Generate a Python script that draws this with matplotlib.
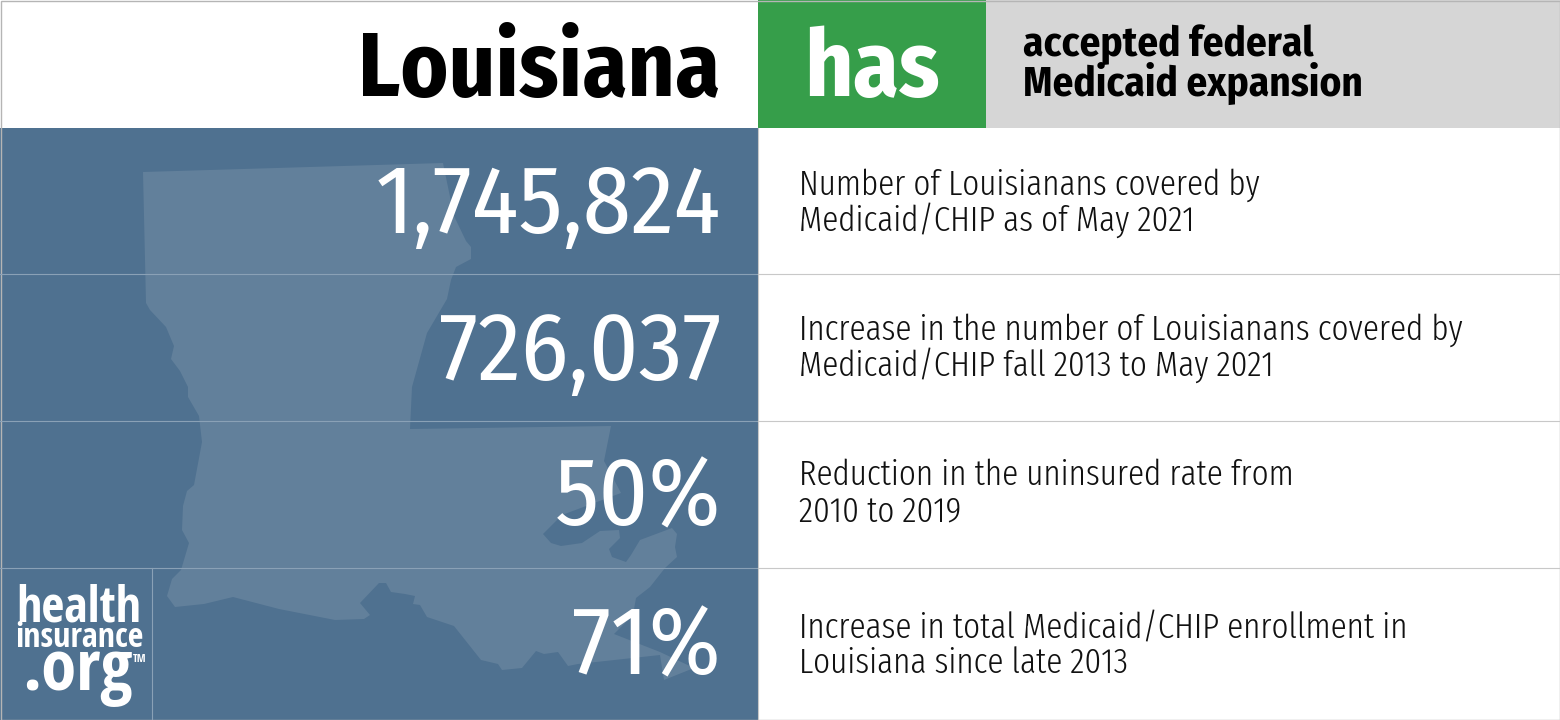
import matplotlib
matplotlib.use("Agg")
import matplotlib.pyplot as plt
from matplotlib.patches import Polygon, Rectangle

state = "Louisiana"
status = "has"
status_note = ["accepted federal", "Medicaid expansion"]

stat_values = ["1,745,824", "726,037", "50%", "71%"]
stat_notes = [
    ["Number of Louisianans covered by", "Medicaid/CHIP as of May 2021"],
    ["Increase in the number of Louisianans covered by", "Medicaid/CHIP fall 2013 to May 2021"],
    ["Reduction in the uninsured rate from", "2010 to 2019"],
    ["Increase in total Medicaid/CHIP enrollment in", "Louisiana since late 2013"],
]
row_lines = [274, 421, 568]
value_y = [233, 380, 525, 674]
note_y = [[195, 231], [340, 376], [485, 521], [638, 673]]

# state outline, in pixels
outline_x = [143, 443, 454, 466, 471, 471, 456, 451, 447, 427, 412, 410, 611, 604, 621, 562, 543, 551, 561, 582, 600, 619, 620, 609, 612, 626, 631, 640, 672, 677, 675, 677, 665, 650, 636, 633, 614, 660, 694, 664, 660, 578, 568, 558, 544, 536, 522, 502, 498, 481, 454, 427, 420, 413, 415, 405, 391, 386, 379, 360, 370, 364, 335, 279, 233, 204, 175, 167, 172, 181, 189, 182, 183, 187, 194, 202, 199, 188, 188, 180, 171, 174, 166, 150, 146]
outline_y = [172, 163, 216, 241, 247, 259, 267, 280, 299, 333, 387, 429, 426, 461, 493, 515, 534, 543, 546, 543, 531, 530, 538, 549, 557, 562, 555, 540, 528, 534, 547, 557, 568, 587, 598, 615, 634, 652, 668, 680, 655, 664, 666, 652, 654, 651, 668, 670, 664, 660, 626, 617, 605, 604, 596, 594, 592, 583, 583, 603, 615, 619, 620, 609, 597, 604, 607, 596, 579, 570, 543, 530, 506, 491, 485, 442, 416, 397, 387, 371, 359, 346, 327, 310, 303]

navy = "#4f7190"
land = "#62809b"
green = "#369e4a"
grey = "#d6d6d6"
rule = "#c8c8c8"
panel_rule = "#8aa1b6"

title_font = ["Fira Sans Condensed", "Roboto Condensed", "Roboto", "DejaVu Sans"]
thin_font = ["Fira Sans Extra Condensed", "Roboto Condensed", "Roboto", "DejaVu Sans"]
logo_font = ["Open Sans Condensed", "Roboto Condensed", "Open Sans", "DejaVu Sans"]

fig = plt.figure(figsize=(15.6, 7.2), dpi=100)
ax = fig.add_axes([0, 0, 1, 1])
ax.set_xlim(0, 1560)
ax.set_ylim(720, 0)
ax.axis("off")

ax.add_patch(Rectangle((0, 0), 1560, 720, fc="white", ec="none"))
ax.add_patch(Rectangle((0, 128), 758, 592, fc=navy, ec="none"))
ax.add_patch(Polygon(list(zip(outline_x, outline_y)), fc=land, ec="none"))
ax.add_patch(Rectangle((758, 0), 228, 128, fc=green, ec="none"))
ax.add_patch(Rectangle((986, 0), 574, 128, fc=grey, ec="none"))

ax.text(720, 96, state, ha="right", va="baseline", fontsize=65.3, fontweight="bold", family=title_font, color="black")
ax.text(872, 96, status, ha="center", va="baseline", fontsize=67, fontweight="bold", family=title_font, color="white")
ax.text(1023, 56, status_note[0], ha="left", va="baseline", fontsize=29.6, fontweight="bold", family=title_font, color="black")
ax.text(1023, 96, status_note[1], ha="left", va="baseline", fontsize=29.6, fontweight="bold", family=title_font, color="black")

for y in row_lines:
    ax.plot([0, 758], [y, y], color=panel_rule, lw=0.8)
    ax.plot([758, 1560], [y, y], color=rule, lw=0.8)
ax.plot([152, 152], [568, 720], color=panel_rule, lw=0.8)

for val, y in zip(stat_values, value_y):
    ax.text(721, y, val, ha="right", va="baseline", fontsize=69.5, fontweight=400, family=title_font, color="white")
for note, ys in zip(stat_notes, note_y):
    for line, y in zip(note, ys):
        ax.text(799, y, line, ha="left", va="baseline", fontsize=25.9, fontweight=300, family=thin_font, color="#111111")

# logo
ax.text(16, 622, "health", ha="left", va="baseline", fontsize=36, fontweight="bold", family=logo_font, color="white")
ax.text(15, 647, "insurance", ha="left", va="baseline", fontsize=24.5, fontweight="bold", family=logo_font, color="white")
ax.text(22, 690, ".org", ha="left", va="baseline", fontsize=51, fontweight="bold", family=logo_font, color="white")
ax.text(133, 662, "TM", ha="left", va="baseline", fontsize=8, family=logo_font, color="white")

ax.add_patch(Rectangle((0.5, 0.5), 1559, 719, fc="none", ec="#b5b5b5", lw=1))
ax.plot([758, 758], [128, 720], color=rule, lw=0.8)

fig.savefig("out.png", dpi=100)
